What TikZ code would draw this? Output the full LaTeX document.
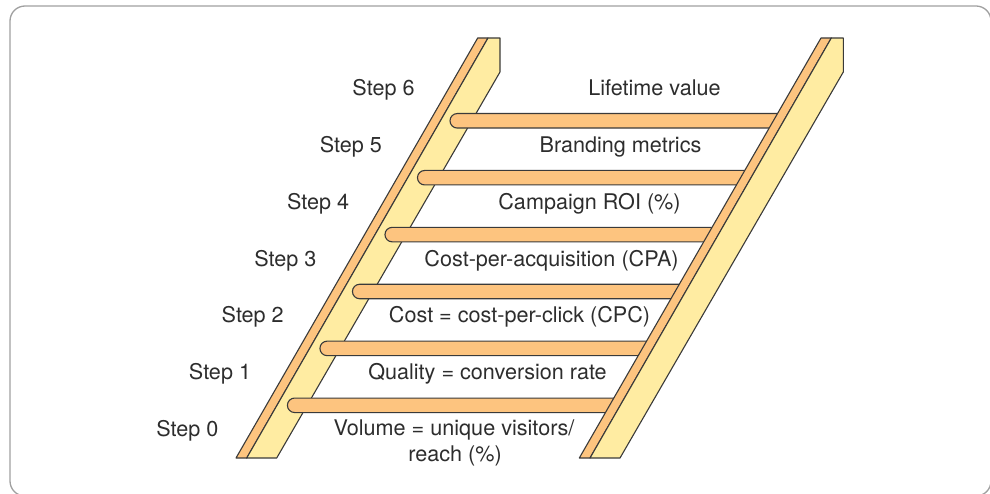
\documentclass[tikz,border=0pt]{standalone}
\usepackage{fontspec}
\setmainfont{TeX Gyre Heros}
\definecolor{railorange}{RGB}{253,196,127}
\definecolor{railyellow}{RGB}{255,236,162}
\definecolor{edge}{RGB}{58,58,58}
\definecolor{txt}{RGB}{45,45,45}
\definecolor{framegray}{RGB}{160,160,160}
\begin{document}
\begin{tikzpicture}[x=1pt,y=-1pt,
  frame/.style={draw=framegray,line width=1.3pt,rounded corners=15pt},
  railstrip/.style={fill=railorange,draw=edge,line width=1.1pt,line join=round},
  railface/.style={fill=railyellow,draw=edge,line width=1.1pt,line join=round},
  rungbar/.style={fill=railorange,draw=edge,line width=1.1pt},
  lbl/.style={font=\fontsize{21.6}{26.5}\selectfont,text=txt,inner sep=0pt,anchor=base},
  metric/.style={lbl,align=center}]
\useasboundingbox (0,0) rectangle (990,494);
% outer frame
\draw[frame] (10,6) rectangle (991,496);

% left rail
\draw[railstrip] (477.7,38) -- (488,38) -- (246.7,458) -- (236,458) -- cycle;
\draw[railface] (488,38) -- (500,38) -- (500,72) -- (276.7,458) -- (246.7,458) -- cycle;

% rungs, rounded on the left, tucked under the right rail
\foreach \j in {0,...,5}{
  \pgfmathsetmacro\yc{120.8+56.9*\j}
  \pgfmathsetmacro\xl{450-0.5715*56.9*\j}
  \pgfmathsetmacro\xr{832.7-0.5755*(\yc-38)-2}
  \draw[rungbar] (\xr,\yc-7.25) [rounded corners=7.25pt] -- (\xl,\yc-7.25)
     -- (\xl,\yc+7.25) [sharp corners] -- (\xr,\yc+7.25);
}

% right rail
\draw[railstrip] (821,38) -- (831.3,38) -- (590,458) -- (579.3,458) -- cycle;
\draw[railface] (831.3,38) -- (843.3,38) -- (843.3,72) -- (620,458) -- (590,458) -- cycle;

% step labels
\foreach \k [evaluate=\k as \yb using {96+(6-\k)*56.67},
             evaluate=\k as \xb using {383.5-(6-\k)*32.7}] in {0,...,6}{
  \node[lbl] (step\k) at (\xb,\yb) {Step \k};
}

% metric labels
\node[lbl] (m6) at (654.5,96) {Lifetime value};
\node[lbl] (m5) at (620.5,152.7) {Branding metrics};
\node[lbl] (m4) at (589.5,209.3) {Campaign ROI (\%)};
\node[lbl] (m3) at (551.5,266) {Cost-per-acquisition (CPA)};
\node[lbl] (m2) at (519.5,322.7) {Cost = cost-per-click (CPC)};
\node[lbl] (m1) at (487.5,379.3) {Quality = conversion rate};
\node[lbl] (m0) at (454,435) {Volume = unique visitors/};
\node[lbl] (m0b) at (455,461.5) {reach (\%)};
\end{tikzpicture}
\end{document}
